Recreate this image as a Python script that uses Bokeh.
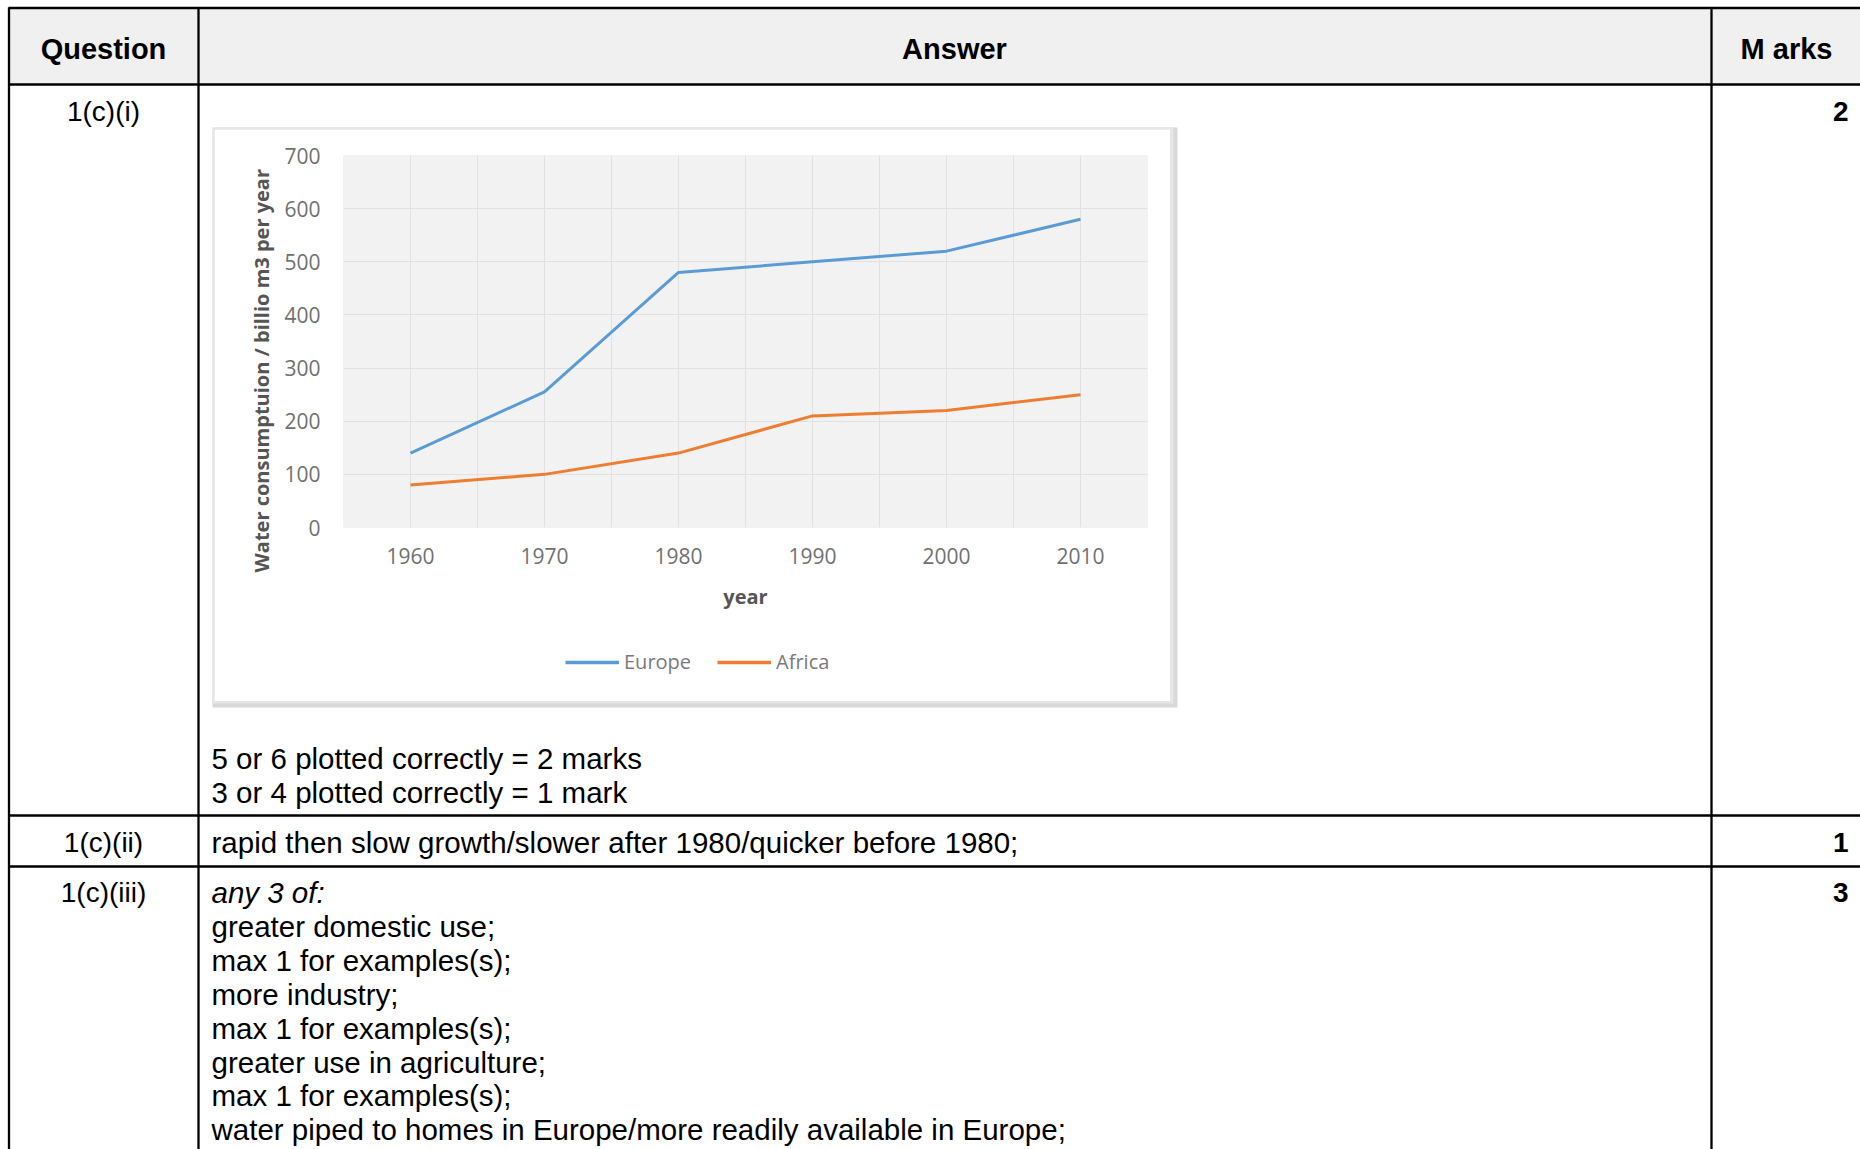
from bokeh.plotting import figure
from bokeh.models import (GridBox, Range1d, FixedTicker, SingleIntervalTicker,
                          Legend, LegendItem, Title)
from bokeh.embed import file_html
from bokeh.resources import INLINE
from bokeh.core.properties import value

# ---------------- data ----------------
years = [1960, 1970, 1980, 1990, 2000, 2010]
europe = [140, 255, 480, 500, 520, 580]
africa = [80, 100, 140, 210, 220, 250]
x_ticks = [1960, 1970, 1980, 1990, 2000, 2010]
y_ticks = [0, 100, 200, 300, 400, 500, 600, 700]
series_names = ["Europe", "Africa"]
series_colors = ["#5B9BD5", "#ED7D31"]
x_title = "year"
y_title = "Water consumptuion / billio m3 per year"

header_labels = ["Question", "Answer", "M arks"]
question_labels = ["1(c)(i)", "1(c)(ii)", "1(c)(iii)"]
marks = ["2", "1", "3"]
answer_i = ["5 or 6 plotted correctly = 2 marks",
            "3 or 4 plotted correctly = 1 mark"]
answer_ii = ["rapid then slow growth/slower after 1980/quicker before 1980;"]
answer_iii_intro = ["any 3 of:"]
answer_iii = ["greater domestic use;",
              "max 1 for examples(s);",
              "more industry;",
              "max 1 for examples(s);",
              "greater use in agriculture;",
              "max 1 for examples(s);",
              "water piped to homes in Europe/more readily available in Europe;"]

# ---------------- table (page coordinates) ----------------
W, H = 1860, 1149
ARIAL = value("Liberation Sans")
BODY = "29.5px"

t = figure(width=W, height=H, x_range=Range1d(0, W), y_range=Range1d(H, 0),
           output_backend="svg", toolbar_location=None, min_border=0,
           x_axis_type=None, y_axis_type=None)
t.outline_line_color = None
t.background_fill_color = "white"
t.border_fill_color = "white"

# header background
t.quad(left=[8], right=[1860], top=[7], bottom=[84], fill_color="#F0F0F0", line_color=None)

# chart box frame (light grey with shadow)
t.quad(left=[212], right=[1177], top=[127], bottom=[707], fill_color="#D9D9D9", line_color=None)
t.quad(left=[212], right=[1173], top=[127], bottom=[703], fill_color="#E6E6E6", line_color=None)

# table lines
hy = [7.5, 84, 815, 866]
t.segment(x0=[8] * 4, y0=hy, x1=[1860] * 4, y1=hy, line_color="black", line_width=2.3)
vx = [8.5, 198, 1711]
t.segment(x0=vx, y0=[7] * 3, x1=vx, y1=[1150] * 3, line_color="black", line_width=2.3)

# header texts
t.text(x=[103, 954, 1786], y=[48] * 3, text=header_labels, text_font=ARIAL,
       text_font_style="bold", text_font_size="29px", text_align="center",
       text_baseline="middle", text_color="black")

row_mid = [111, 842, 892]
t.text(x=[103] * 3, y=row_mid, text=question_labels, text_font=ARIAL,
       text_font_size="28px", text_align="center", text_baseline="middle", text_color="black")
t.text(x=[1848] * 3, y=row_mid, text=marks, text_font=ARIAL, text_font_style="bold",
       text_font_size="28px", text_align="right", text_baseline="middle", text_color="black")

LS = 33.9
t.text(x=[211] * 2, y=[758, 758 + LS], text=answer_i, text_font=ARIAL, text_font_size=BODY,
       text_align="left", text_baseline="middle", text_color="black")
t.text(x=[211], y=[842], text=answer_ii, text_font=ARIAL, text_font_size=BODY,
       text_align="left", text_baseline="middle", text_color="black")
t.text(x=[211], y=[892], text=answer_iii_intro, text_font=ARIAL, text_font_size=BODY,
       text_font_style="italic", text_align="left", text_baseline="middle", text_color="black")
t.text(x=[211] * len(answer_iii), y=[892 + LS * (i + 1) for i in range(len(answer_iii))],
       text=answer_iii, text_font=ARIAL, text_font_size=BODY,
       text_align="left", text_baseline="middle", text_color="black")

# ---------------- chart ----------------
c = figure(frame_width=804, frame_height=372, x_range=Range1d(1955, 2015), y_range=Range1d(0, 700),
           output_backend="svg", toolbar_location=None,
           min_border_left=129, min_border_right=23, min_border_top=26, min_border_bottom=174)
c.outline_line_color = None
c.background_fill_color = "#F2F2F2"
c.border_fill_color = "white"

c.xaxis.ticker = FixedTicker(ticks=x_ticks)
c.yaxis.ticker = FixedTicker(ticks=y_ticks)
c.xgrid.ticker = SingleIntervalTicker(interval=5, num_minor_ticks=0)
c.ygrid.ticker = FixedTicker(ticks=y_ticks)
c.grid.grid_line_color = "#E1E1E1"
c.grid.grid_line_width = 1

for ax in (c.xaxis, c.yaxis):
    ax.axis_line_color = None
    ax.major_tick_line_color = None
    ax.minor_tick_line_color = None
    ax.major_label_text_font = "Open Sans"
    ax.major_label_text_font_size = "21px"
    ax.major_label_text_color = "#707070"
    ax.axis_label_text_font = "Open Sans"
    ax.axis_label_text_font_style = "bold"
    ax.axis_label_text_color = "#555555"

c.xaxis.axis_label = x_title
c.xaxis.axis_label_text_font_size = "20px"
c.xaxis.major_label_standoff = 14
c.xaxis.axis_label_standoff = 16

c.yaxis.major_label_standoff = 17

ytitle = Title(text=y_title, align="left", offset=-45, standoff=14,
               text_font="Open Sans", text_font_size="20px", text_font_style="bold",
               text_color="#555555")
c.add_layout(ytitle, "left")

r_eu = c.line(x=years, y=europe, line_color=series_colors[0], line_width=3)
r_af = c.line(x=years, y=africa, line_color=series_colors[1], line_width=3)

# ---------------- legend (small overlaid panel) ----------------
lf = figure(width=280, height=50, x_range=Range1d(0, 1), y_range=Range1d(0, 1),
            output_backend="svg", toolbar_location=None, min_border=0,
            x_axis_type=None, y_axis_type=None)
lf.outline_line_color = None
lf.background_fill_color = "white"
lf.border_fill_color = "white"
# same series, outside this panel's view: only their legend glyphs are shown
l_eu = lf.line(x=years, y=europe, line_color=series_colors[0], line_width=3.5)
l_af = lf.line(x=years, y=africa, line_color=series_colors[1], line_width=3.5)
legend = Legend(items=[LegendItem(label=series_names[0], renderers=[l_eu]),
                       LegendItem(label=series_names[1], renderers=[l_af])],
                location=(5, 14), orientation="horizontal",
                border_line_color=None, background_fill_alpha=0,
                label_text_font="Open Sans", label_text_font_size="20px",
                label_text_color="#7A7A7A", glyph_width=54, glyph_height=22,
                label_height=22, label_standoff=5, spacing=26, padding=0, margin=0)
lf.add_layout(legend)

# ---------------- layout: chart + legend overlaid on the table ----------------
kids = [(t, 0, 0, 5, 5), (c, 1, 1, 3, 3), (lf, 2, 2, 1, 1)]
rows_px = [129, 510, 50, 12, 448]
cols_px = [214, 346, 280, 330, 690]
try:
    root = GridBox(children=kids, rows=[f"{v}px" for v in rows_px],
                   cols=[f"{v}px" for v in cols_px], spacing=0)
except Exception:
    root = GridBox(children=kids, rows=rows_px, cols=cols_px, spacing=0)

open("out.html", "w").write(file_html(root, INLINE))
